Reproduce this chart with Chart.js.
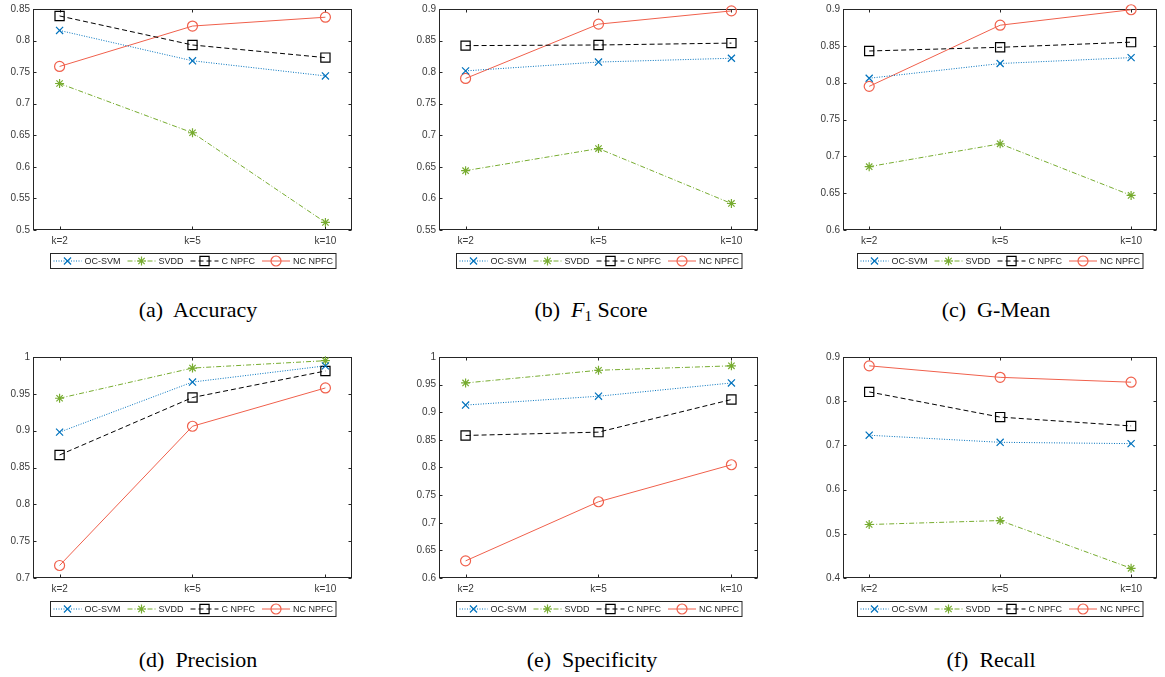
<!DOCTYPE html>
<html>
<head>
<meta charset="utf-8">
<script src="https://cdn.jsdelivr.net/npm/chart.js@4.4.1/dist/chart.umd.min.js"></script>
<style>
  body { margin: 0; background: #fff; width: 1165px; height: 677px; position: relative; overflow: hidden; }
  canvas { position: absolute; }
  .cap { position: absolute; font-family: "Liberation Serif", serif; font-size: 22px; line-height: 22px;
         color: #000; transform: translateX(-50%); white-space: pre; }
  .cap sub { font-size: 15px; vertical-align: -4px; line-height: 0; }
</style>
</head>
<body>
<canvas id="cA" width="390" height="275" style="left:0;top:0"></canvas>
<canvas id="cB" width="390" height="275" style="left:390px;top:0"></canvas>
<canvas id="cC" width="385" height="275" style="left:780px;top:0"></canvas>
<canvas id="cD" width="390" height="275" style="left:0;top:348px"></canvas>
<canvas id="cE" width="390" height="275" style="left:390px;top:348px"></canvas>
<canvas id="cF" width="385" height="275" style="left:780px;top:348px"></canvas>

<div class="cap" style="left:198px;top:299px">(a)  Accuracy</div>
<div class="cap" style="left:591px;top:299px">(b)  <i>F</i><sub>1</sub> Score</div>
<div class="cap" style="left:996px;top:299px">(c)  G-Mean</div>
<div class="cap" style="left:198px;top:649px">(d)  Precision</div>
<div class="cap" style="left:592px;top:649px">(e)  Specificity</div>
<div class="cap" style="left:991px;top:649px">(f)  Recall</div>

<script>
var categories = ['k=2', 'k=5', 'k=10'];
var seriesNames = ['OC-SVM', 'SVDD', 'C NPFC', 'NC NPFC'];

// (a) Accuracy
var accOCSVM = [0.816, 0.768, 0.744];
var accSVDD = [0.732, 0.654, 0.512];
var accCNPFC = [0.839, 0.793, 0.773];
var accNCNPFC = [0.759, 0.823, 0.837];
var accTicks = [0.5, 0.55, 0.6, 0.65, 0.7, 0.75, 0.8, 0.85];

// (b) F1 score
var f1OCSVM = [0.802, 0.816, 0.822];
var f1SVDD = [0.644, 0.679, 0.592];
var f1CNPFC = [0.842, 0.843, 0.846];
var f1NCNPFC = [0.790, 0.876, 0.897];
var f1Ticks = [0.55, 0.6, 0.65, 0.7, 0.75, 0.8, 0.85, 0.9];

// (c) G-Mean
var gmOCSVM = [0.806, 0.826, 0.834];
var gmSVDD = [0.686, 0.717, 0.647];
var gmCNPFC = [0.843, 0.848, 0.855];
var gmNCNPFC = [0.795, 0.878, 0.899];
var gmTicks = [0.6, 0.65, 0.7, 0.75, 0.8, 0.85, 0.9];

// (d) Precision
var precOCSVM = [0.898, 0.966, 0.988];
var precSVDD = [0.944, 0.985, 0.995];
var precCNPFC = [0.867, 0.945, 0.981];
var precNCNPFC = [0.717, 0.906, 0.958];
var precTicks = [0.7, 0.75, 0.8, 0.85, 0.9, 0.95, 1];

// (e) Specificity
var specOCSVM = [0.913, 0.929, 0.953];
var specSVDD = [0.953, 0.976, 0.984];
var specCNPFC = [0.858, 0.864, 0.923];
var specNCNPFC = [0.631, 0.738, 0.805];
var specTicks = [0.6, 0.65, 0.7, 0.75, 0.8, 0.85, 0.9, 0.95, 1];

// (f) Recall
var recOCSVM = [0.723, 0.707, 0.704];
var recSVDD = [0.521, 0.530, 0.422];
var recCNPFC = [0.821, 0.764, 0.744];
var recNCNPFC = [0.880, 0.854, 0.843];
var recTicks = [0.4, 0.5, 0.6, 0.7, 0.8, 0.9];

// line / marker look of the four methods (matlab style)
var seriesStyle = [
  { color: '#0072BD', dash: [1, 1.5], point: 'crossRot', radius: 5 },
  { color: '#77AC30', dash: [5, 2, 1, 2], point: 'star', radius: 4.5 },
  { color: '#000000', dash: [5, 3], point: 'rect', radius: 6.5 },
  { color: '#F0604C', dash: [], point: 'circle', radius: 5 }
];

var axisColor = '#262626';
var tickFont = { family: 'Liberation Sans', size: 10 };

// draws the matlab box with inward ticks on all four sides
var framePlugin = {
  id: 'frame',
  beforeDatasetsDraw: function(chart) {
    var ctx = chart.ctx, a = chart.chartArea;
    var l = Math.round(a.left) + 0.5, r = Math.round(a.right) - 0.5;
    var t = Math.round(a.top) + 0.5, b = Math.round(a.bottom) - 0.5;
    ctx.save();
    ctx.strokeStyle = axisColor;
    ctx.lineWidth = 1;
    ctx.setLineDash([]);
    ctx.strokeRect(l, t, r - l, b - t);
    ctx.beginPath();
    chart.scales.y.ticks.forEach(function(tk) {
      var y = Math.round(chart.scales.y.getPixelForValue(tk.value)) + 0.5;
      ctx.moveTo(l, y); ctx.lineTo(l + 3, y);
      ctx.moveTo(r, y); ctx.lineTo(r - 3, y);
    });
    chart.scales.x.ticks.forEach(function(tk) {
      var x = Math.round(chart.scales.x.getPixelForValue(tk.value)) + 0.5;
      ctx.moveTo(x, b); ctx.lineTo(x, b - 3);
      ctx.moveTo(x, t); ctx.lineTo(x, t + 3);
    });
    ctx.stroke();
    ctx.restore();
  }
};

// boxed legend under the axes, line sample + marker + name
var legendPlugin = {
  id: 'boxLegend',
  afterDraw: function(chart) {
    var ctx = chart.ctx;
    var lineLen = 28, gapA = 3, gapB = 7, pad = 3, h = 15;
    ctx.save();
    ctx.font = '9px "Liberation Sans"';
    var widths = seriesNames.map(function(n) { return ctx.measureText(n).width; });
    var total = pad * 2;
    widths.forEach(function(w, i) { total += lineLen + gapA + w + (i < widths.length - 1 ? gapB : 0); });
    var cx = chart.scales.x.getPixelForValue(2);
    var x0 = Math.round(cx - total / 2) + 0.5;
    var y0 = Math.round(chart.chartArea.bottom) + 23 + 0.5;
    ctx.fillStyle = '#fff';
    ctx.fillRect(x0, y0, total, h);
    ctx.strokeStyle = axisColor;
    ctx.lineWidth = 1;
    ctx.strokeRect(x0, y0, total, h);
    var x = x0 + pad, ym = y0 + h / 2;
    seriesNames.forEach(function(name, i) {
      var st = seriesStyle[i];
      ctx.strokeStyle = st.color;
      ctx.lineWidth = 1;
      ctx.setLineDash(st.dash);
      ctx.beginPath();
      ctx.moveTo(x, ym); ctx.lineTo(x + lineLen, ym);
      ctx.stroke();
      ctx.setLineDash([]);
      ctx.fillStyle = 'rgba(0,0,0,0)';
      ctx.lineWidth = 1.2;
      Chart.helpers.drawPoint(ctx, { pointStyle: st.point, radius: st.radius, borderWidth: 1.2, rotation: 0 }, x + lineLen / 2, ym);
      ctx.fillStyle = axisColor;
      ctx.textBaseline = 'middle';
      ctx.textAlign = 'left';
      ctx.fillText(name, x + lineLen + gapA, ym + 0.5);
      x += lineLen + gapA + widths[i] + gapB;
    });
    ctx.restore();
  }
};

function makeChart(id, yTicks, series, yw, padR) {
  var datasets = series.map(function(vals, i) {
    var st = seriesStyle[i];
    return {
      label: seriesNames[i],
      data: vals.map(function(v, j) { return { x: j + 1, y: v }; }),
      borderColor: st.color,
      borderWidth: 1,
      borderDash: st.dash,
      pointStyle: st.point,
      pointRadius: st.radius,
      pointBorderWidth: 1.2,
      pointBorderColor: st.color,
      pointBackgroundColor: 'rgba(0,0,0,0)',
      tension: 0,
      clip: false
    };
  });
  return new Chart(document.getElementById(id), {
    type: 'line',
    data: { datasets: datasets },
    options: {
      responsive: false,
      animation: false,
      layout: { padding: { left: 0, right: padR, top: 8, bottom: 0 } },
      plugins: { legend: { display: false }, tooltip: { enabled: false } },
      scales: {
        x: {
          type: 'linear', min: 0.8, max: 3.2,
          afterBuildTicks: function(s) { s.ticks = categories.map(function(c, i) { return { value: i + 1 }; }); },
          afterFit: function(s) { s.height = 45; },
          grid: { display: false, drawTicks: false },
          border: { display: false },
          ticks: { autoSkip: false, maxRotation: 0, padding: 5, font: tickFont, color: '#3a3a3a',
                   callback: function(v) { return categories[v - 1]; } }
        },
        y: {
          min: yTicks[0], max: yTicks[yTicks.length - 1],
          afterBuildTicks: function(s) { s.ticks = yTicks.map(function(v) { return { value: v }; }); },
          afterFit: function(s) { s.width = yw; },
          grid: { display: false, drawTicks: false },
          border: { display: false },
          ticks: { padding: 3, font: tickFont, color: '#3a3a3a',
                   callback: function(v) { return String(v); } }
        }
      }
    },
    plugins: [framePlugin, legendPlugin]
  });
}

makeChart('cA', accTicks, [accOCSVM, accSVDD, accCNPFC, accNCNPFC], 33, 38);
makeChart('cB', f1Ticks, [f1OCSVM, f1SVDD, f1CNPFC, f1NCNPFC], 49, 22);
makeChart('cC', gmTicks, [gmOCSVM, gmSVDD, gmCNPFC, gmNCNPFC], 63, 2);
makeChart('cD', precTicks, [precOCSVM, precSVDD, precCNPFC, precNCNPFC], 33, 38);
makeChart('cE', specTicks, [specOCSVM, specSVDD, specCNPFC, specNCNPFC], 49, 22);
makeChart('cF', recTicks, [recOCSVM, recSVDD, recCNPFC, recNCNPFC], 63, 2);
</script>
</body>
</html>
